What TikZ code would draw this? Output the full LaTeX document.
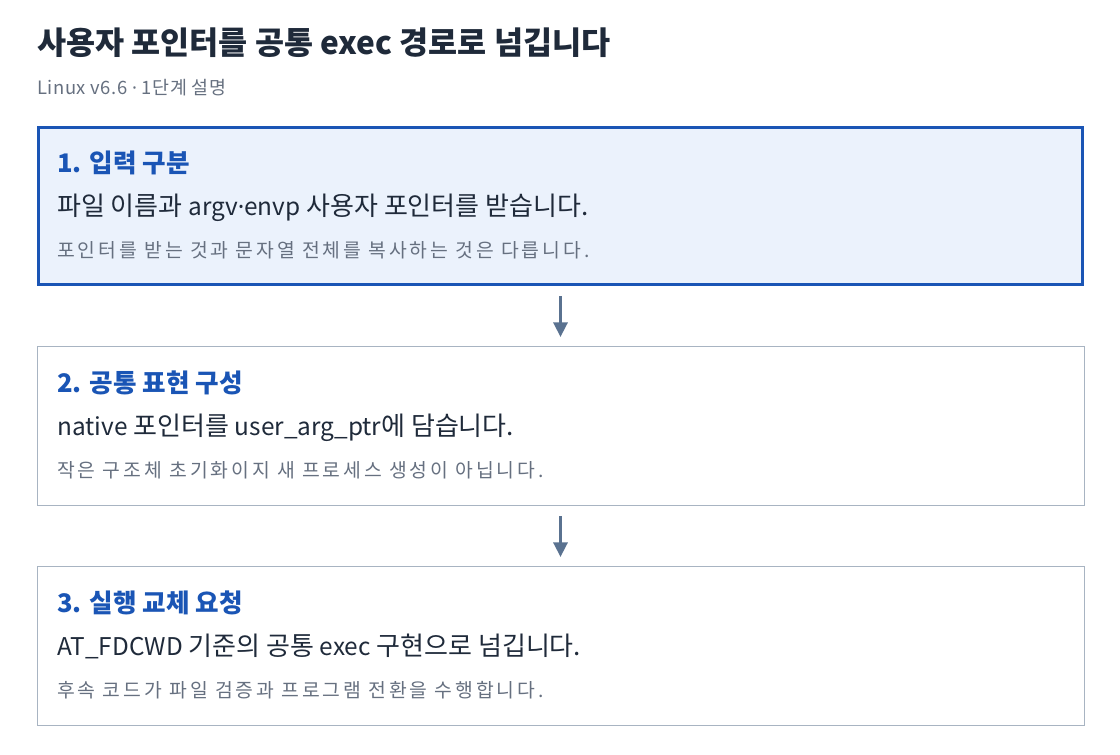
\documentclass[tikz,border=0pt]{standalone}
\usepackage{fontspec}
\setmainfont{Noto Sans CJK KR}
\newfontfamily\latinfont{Noto Sans}
\usetikzlibrary{arrows.meta}
\newcommand\mlat[1]{{\fontsize{18.3pt}{22pt}\selectfont #1}}
\definecolor{titlec}{HTML}{1F2A3A}
\definecolor{subc}{HTML}{667080}
\definecolor{headc}{HTML}{1A55B5}
\definecolor{mainc}{HTML}{1F2A3A}
\definecolor{notec}{HTML}{667080}
\definecolor{hlborder}{HTML}{1A55B5}
\definecolor{hlfill}{HTML}{EBF2FC}
\definecolor{boxborder}{HTML}{A8B4C2}
\definecolor{arrowc}{HTML}{5A7290}
\tikzset{
  titletext/.style={anchor=base west, inner sep=0pt, text=titlec, font=\fontsize{23.7pt}{28pt}\selectfont\bfseries},
  subtitletext/.style={anchor=base west, inner sep=0pt, text=subc, font=\fontsize{13.8pt}{16pt}\selectfont\addfontfeature{LetterSpace=3}},
  headtext/.style={anchor=base west, inner sep=0pt, text=headc, font=\fontsize{19.2pt}{22pt}\selectfont\bfseries},
  maintext/.style={anchor=base west, inner sep=0pt, text=mainc, font=\fontsize{19.5pt}{22pt}\selectfont},
  notetext/.style={anchor=base west, inner sep=0pt, text=notec, font=\fontsize{14.5pt}{17pt}\selectfont\addfontfeature{LetterSpace=15}},
  hlbox/.style={draw=hlborder, fill=hlfill, line width=2.25pt, minimum width=783pt, minimum height=117.75pt, inner sep=0pt},
  plainbox/.style={draw=boxborder, fill=white, line width=0.75pt, minimum width=785.25pt, minimum height=119.25pt, inner sep=0pt},
  flowarrow/.style={draw=arrowc, line width=2.4pt, -{Triangle[width=10.5pt,length=11pt]}, shorten <=7.5pt, shorten >=6.75pt}
}
\begin{document}
\begin{tikzpicture}[x=0.75pt,y=-0.75pt]
\useasboundingbox[fill=white] (0,0) rectangle (1120,754);
\node[titletext] (title) at (37,54) {사용자 포인터를 공통 exec 경로로 넘깁니다};
\node[subtitletext] (subtitle) at (37,94) {Linux v6.6 {\latinfont ·} 1단계 설명};

\node[hlbox] (b1) at (560.5,206) {};
\node[plainbox] (b2) at (560.5,426) {};
\node[plainbox] (b3) at (560.5,646) {};

\node[headtext] (h1) at (57,172) {1. 입력 구분};
\node[maintext] (m1) at (57,215) {파일 이름과 \mlat{argv{\latinfont ·}envp} 사용자 포인터를 받습니다.};
\node[notetext] (n1) at (57,257) {포인터를 받는 것과 문자열 전체를 복사하는 것은 다릅니다.};

\node[headtext] (h2) at (57,392) {2. 공통 표현 구성};
\node[maintext] (m2) at (57,435) {\mlat{native} 포인터를 \mlat{user\_arg\_ptr}에 담습니다.};
\node[notetext] (n2) at (57,477) {작은 구조체 초기화이지 새 프로세스 생성이 아닙니다.};

\node[headtext] (h3) at (57,612) {3. 실행 교체 요청};
\node[maintext] (m3) at (57,655) {\mlat{AT\_FDCWD} 기준의 공통 \mlat{exec} 구현으로 넘깁니다.};
\node[notetext] (n3) at (57,697) {후속 코드가 파일 검증과 프로그램 전환을 수행합니다.};

\draw[flowarrow] (b1.south) -- (b2.north);
\draw[flowarrow] (b2.south) -- (b3.north);
\end{tikzpicture}
\end{document}
